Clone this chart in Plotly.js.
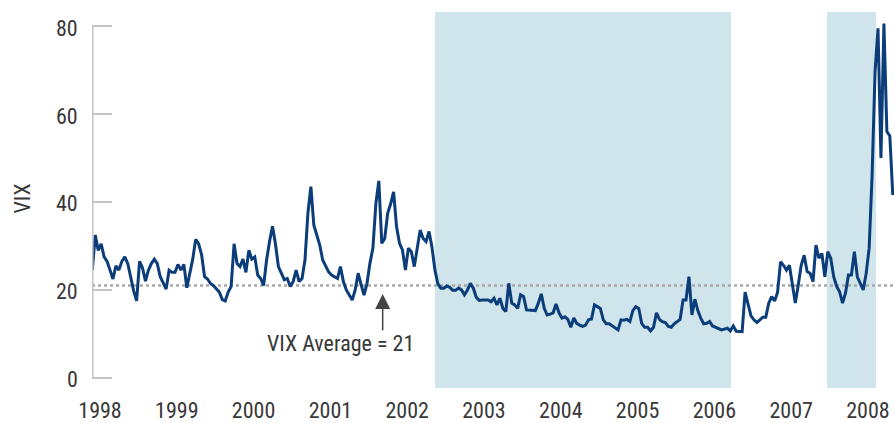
<!DOCTYPE html>
<html>
<head>
<meta charset="utf-8">
<script src="https://cdn.plot.ly/plotly-3.0.1.min.js"></script>
<style>
html,body{margin:0;padding:0;background:#fff;}
#chart{width:894px;height:423px;}
#chart svg text{font-stretch:75% !important;}
</style>
</head>
<body>
<div id="chart"></div>
<script>
// Biweekly samples (decimal year axis)
const seriesStart = 1997.9;
const seriesStep = 1 / 26;
const vixValues = [
 24.5,32.5,29,30.5,27.5,26.5,24.5,22.5,25.5,24.5,
 26.5,27.5,26,22.5,19.8,17.5,26.5,25,22,24.5,
 26,27,26,23,21.5,20.2,24.5,24,24,25.8,
 24.5,25.8,20.5,24,27,31.5,30.5,28,23,22.5,
 21.5,21,20.2,19.5,17.8,17.5,19.5,20.8,30.5,26,
 25.3,27,24,29,27,27.5,23.4,22.6,21,26.8,
 31,34.5,30.5,25.3,23.8,22.3,22.6,20.8,21.9,24.5,
 21.9,22.6,26.8,37.5,43.5,34.7,32.5,30.2,26.8,25.3,
 24.1,23.4,23,22.6,25.3,21.9,20,18.9,17.7,20,
 23.8,21.2,18.8,21.5,26.1,29.5,39.6,44.8,30.6,31.7,
 37.4,39.6,42.3,34.4,30.6,29.1,24.5,29.5,28.7,25.3,
 29.8,33.6,31.7,31,33.3,29.7,24.5,21.4,20.4,20.4,
 20.9,20.6,19.9,19.9,20.4,20,18.9,20,21.5,20.4,
 18.3,17.6,17.7,17.7,17.7,17.3,18.1,16.6,18.1,15.8,
 15.1,21.5,17,16.6,15.8,18.9,18.5,15.45,15.45,15.3,
 15.3,17,19.1,15.8,14.3,14.5,14.8,16.8,14.8,13.6,
 13.9,13.3,11.5,13.6,12.4,12,11.7,12,13.2,13.4,
 16.6,16.2,15.8,13.2,12.3,12.3,11.8,11.5,10.9,13.2,
 13.1,13.3,12.8,15.3,16.2,15.8,12.4,11.5,11.5,10.7,
 11.5,14.8,13.3,12.8,12.6,11.7,11.5,12.3,12.8,13.3,
 17.7,17.7,23,14.3,17.9,15.3,13.6,12.3,12.4,12.8,
 11.8,11.5,11.3,10.9,11.1,11.3,10.7,11.8,10.6,10.5,
 10.5,19.5,17,14.1,13.2,12.6,13.2,13.8,13.8,17,
 18.5,17.5,19.5,26.4,25.6,24.5,25.6,20.8,17,21.1,
 25.6,27.9,24.2,23.8,21.9,30.2,27.2,28.3,23,28.7,
 27.2,23,20.8,19.6,17,19.3,23.4,23.4,28.7,23,
 21.5,20,23.8,29.5,46.1,69.6,79.5,50,80.6,56,
 55,41.6
];
const vixDates = vixValues.map((_, i) => seriesStart + i * seriesStep);

const yearTicks = [1998,1999,2000,2001,2002,2003,2004,2005,2006,2007,2008];
const yearLabels = yearTicks.map(String);
const vixTicks = [0,20,40,60,80];
const vixTickLabels = vixTicks.map(String);
const vixAverage = 21;
const shadedPeriods = [[2002.362, 2006.216], [2007.466, 2008.104]];
const averageLabel = 'VIX Average = 21';
const yTitle = 'VIX';

const FONT = '"Roboto Condensed", Roboto, "Liberation Sans Narrow", sans-serif';
const TXT = '#383838';
const FS = 22;

const shapes = shadedPeriods.map(p => ({
  type: 'rect', xref: 'x', yref: 'paper', x0: p[0], x1: p[1], y0: 0, y1: 1,
  fillcolor: '#cfe4eb', line: {width: 0}, layer: 'below'
}));
shapes.push({
  type: 'line', xref: 'paper', yref: 'y', x0: 0, x1: 1, y0: vixAverage, y1: vixAverage,
  line: {color: '#a8a8a8', width: 2.5, dash: '3px,3px'}, layer: 'below'
});
shapes.push({
  type: 'line', xref: 'paper', yref: 'y', x0: 0.001, x1: 0.001, y0: 0, y1: 80,
  line: {color: '#c4c4c4', width: 1.5}, layer: 'above'
});

const data = [{
  type: 'scatter', mode: 'lines', x: vixDates, y: vixValues,
  line: {color: '#0b3d7a', width: 3, shape: 'linear'},
  hoverinfo: 'skip'
}];

const annotations = vixTicks.map((v, k) => ({
  xref: 'paper', yref: 'y', x: -0.015, y: v, yshift: -2, text: vixTickLabels[k],
  showarrow: false, xanchor: 'right', yanchor: 'middle',
  font: {family: FONT, size: FS, color: TXT}
}));
annotations.push(
  {xref: 'paper', yref: 'y', x: -0.0867, y: 40.9, text: yTitle, textangle: -90,
   showarrow: false, font: {family: FONT, size: FS, color: TXT}, xanchor: 'center', yanchor: 'middle'},
  {xref: 'x', yref: 'y', x: 2001.138, y: 7.9, text: averageLabel, showarrow: false,
   font: {family: FONT, size: FS, color: TXT}, xanchor: 'center', yanchor: 'middle'},
  {xref: 'x', yref: 'y', axref: 'x', ayref: 'y', x: 2001.681, y: 19.1, ax: 2001.681, ay: 10.5,
   text: '', showarrow: true, arrowhead: 2, arrowsize: 2, arrowwidth: 1.5, arrowcolor: '#444444'}
);

const layout = {
  width: 894, height: 423,
  margin: {l: 92, r: 0, t: 12, b: 35, pad: 0},
  paper_bgcolor: '#ffffff', plot_bgcolor: 'rgba(0,0,0,0)',
  showlegend: false,
  font: {family: FONT, color: TXT, size: FS},
  xaxis: {
    range: [1997.896, 2008.339], tickvals: yearTicks, ticktext: yearLabels,
    showgrid: false, zeroline: false, showline: false,
    ticks: 'outside', ticklen: 3, tickcolor: 'rgba(0,0,0,0)',
    tickfont: {family: FONT, size: FS, color: TXT}, fixedrange: true
  },
  yaxis: {
    range: [-2.3, 83.2], tickvals: vixTicks, showticklabels: false,
    showgrid: false, zeroline: false, showline: false,
    ticks: 'inside', ticklen: 20, tickwidth: 1.5, tickcolor: '#c4c4c4',
    fixedrange: true
  },
  shapes: shapes,
  annotations: annotations
};

Plotly.newPlot('chart', data, layout, {staticPlot: true, displayModeBar: false});
</script>
</body>
</html>
